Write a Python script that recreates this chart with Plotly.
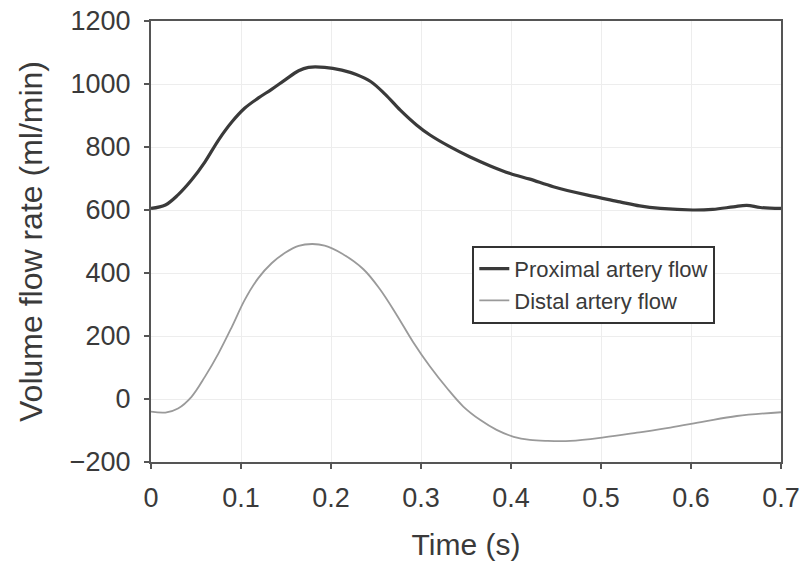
import plotly.graph_objects as go

# Proximal artery flow: time (s) and volume flow rate (ml/min)
time_prox = [0.0, 0.016, 0.030, 0.045, 0.060, 0.075, 0.090, 0.104, 0.119, 0.134, 0.149,
             0.164, 0.175, 0.193, 0.212, 0.228, 0.244, 0.260, 0.277, 0.295, 0.310, 0.332,
             0.354, 0.377, 0.399, 0.421, 0.447, 0.484, 0.521, 0.543, 0.566, 0.602, 0.624,
             0.647, 0.662, 0.677, 0.700]
proximal_flow = [605, 616, 648, 695, 753, 822, 880, 923, 955, 983, 1013,
                 1042, 1053, 1053, 1044, 1030, 1008, 968, 917, 870, 838, 801,
                 769, 740, 716, 698, 674, 648, 626, 613, 605, 600, 602,
                 610, 615, 608, 605]

# Distal artery flow
time_dist = [0.0, 0.016, 0.030, 0.045, 0.060, 0.075, 0.090, 0.104, 0.119, 0.134, 0.149,
             0.164, 0.179, 0.193, 0.212, 0.236, 0.254, 0.273, 0.291, 0.310, 0.329,
             0.347, 0.366, 0.384, 0.403, 0.421, 0.440, 0.466, 0.503, 0.540, 0.577, 0.614,
             0.651, 0.700]
distal_flow = [-40, -43, -30, 7, 71, 145, 230, 314, 383, 431, 464,
               486, 492, 487, 462, 412, 350, 267, 182, 103, 34,
               -24, -67, -98, -120, -130, -133, -133, -122, -107, -91, -72,
               -54, -42]

x_ticks = [0, 0.1, 0.2, 0.3, 0.4, 0.5, 0.6, 0.7]
x_tick_labels = ["0", "0.1", "0.2", "0.3", "0.4", "0.5", "0.6", "0.7"]
y_ticks = [-200, 0, 200, 400, 600, 800, 1000, 1200]
y_tick_labels = ["\u2212200", "0", "200", "400", "600", "800", "1000", "1200"]

font_family = "Liberation Sans, Arial, sans-serif"
text_color = "#3a3a3a"

fig = go.Figure()
fig.add_trace(go.Scatter(
    x=time_prox, y=proximal_flow, mode="lines", name="Proximal artery flow",
    line=dict(color="#3a3a3a", width=3.2, shape="spline", smoothing=1.0),
))
fig.add_trace(go.Scatter(
    x=time_dist, y=distal_flow, mode="lines", name="Distal artery flow",
    line=dict(color="#9a9a9a", width=1.8, shape="spline", smoothing=1.0),
))

axis_common = dict(
    showline=True, linecolor="#555555", linewidth=2, mirror=True,
    showgrid=True, gridcolor="#ededed", gridwidth=1,
    ticks="outside", ticklen=5, tickwidth=1.5, tickcolor="#555555",
    zeroline=False, automargin=False,
    tickfont=dict(family=font_family, size=27, color=text_color),
)

fig.update_layout(
    width=800, height=566,
    margin=dict(l=151, r=19, t=21, b=104),
    paper_bgcolor="white", plot_bgcolor="white",
    font=dict(family=font_family, color=text_color),
    showlegend=True,
    legend=dict(
        x=0.51, y=0.49, xanchor="left", yanchor="top",
        bgcolor="white", bordercolor="#333333", borderwidth=2,
        font=dict(family=font_family, size=22, color=text_color),
        itemwidth=30, tracegroupgap=0,
    ),
    xaxis=dict(
        range=[0, 0.7], tickvals=x_ticks, ticktext=x_tick_labels,
        ticklabelstandoff=6,
        title=dict(text="Time (s)", font=dict(family=font_family, size=30, color=text_color), standoff=22),
        **axis_common,
    ),
    yaxis=dict(
        range=[-200, 1200], tickvals=y_ticks, ticktext=y_tick_labels,
        ticklabelstandoff=8,
        title=dict(text="Volume flow rate (ml/min)", font=dict(family=font_family, size=32, color=text_color), standoff=18),
        **axis_common,
    ),
)

fig.write_html("out.html")
